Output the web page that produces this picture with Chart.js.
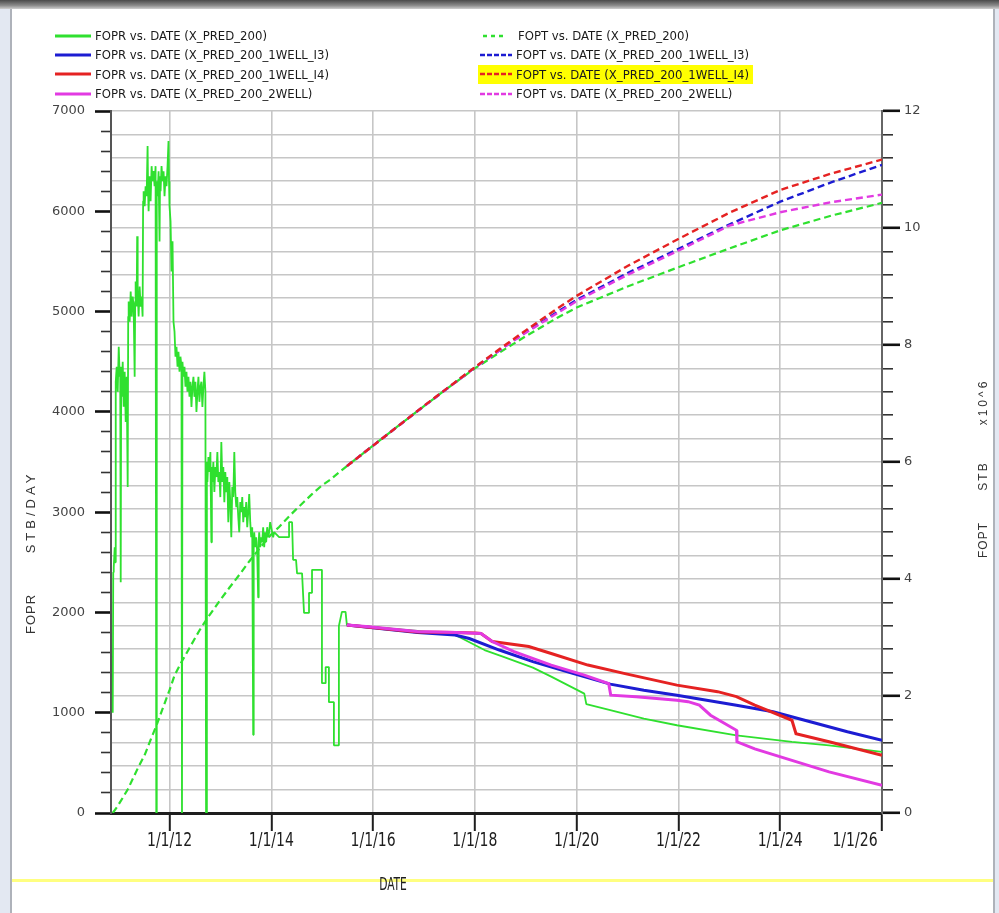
<!DOCTYPE html>
<html><head><meta charset="utf-8">
<script src="https://cdn.jsdelivr.net/npm/chart.js@4.4.1/dist/chart.umd.min.js"></script>
<style>
html,body{margin:0;padding:0;width:999px;height:913px;overflow:hidden;background:#fff;}
#topbar{position:absolute;left:0;top:0;width:999px;height:9px;background:linear-gradient(#4a4a4a,#8a8a8a 60%,#cfcfcf);}
#lstrip{position:absolute;left:0;top:9px;width:10px;height:904px;background:#e3e8f2;border-right:2px solid #aeb2ba;}
#rstrip{position:absolute;left:993px;top:9px;width:4px;height:904px;background:#e3e8f2;border-left:2px solid #aeb2ba;}
#bline{position:absolute;left:12px;top:879px;width:981px;height:3px;background:#ffff80;}
#wrap{position:absolute;left:0;top:0;width:999px;height:913px;}
#legend{position:absolute;left:0;top:0;width:999px;height:105px;}
.li{position:absolute;display:flex;align-items:center;height:19px;font-family:"Liberation Sans Narrow","Arial Narrow","DejaVu Sans Condensed",sans-serif;font-stretch:condensed;font-size:13px;color:#1a1a1a;white-space:nowrap;}
.li svg{display:block;}
</style></head>
<body>
<div id="topbar"></div><div id="lstrip"></div><div id="rstrip"></div><div id="bline"></div>
<div id="wrap"><canvas id="c" width="999" height="913"></canvas></div>
<div id="legend"></div>
<script>
// ---------- data ----------
const X_MIN = 2010.85, X_MAX = 2026.0;
const X_TICK_YEARS = [2012, 2014, 2016, 2018, 2020, 2022, 2024, 2026];
const X_TICK_LABELS = ['1/1/12','1/1/14','1/1/16','1/1/18','1/1/20','1/1/22','1/1/24','1/1/26'];
const FOPR_TICK_LABELS = ['0','1000','2000','3000','4000','5000','6000','7000'];
const FOPT_TICK_LABELS = ['0','2','4','6','8','10','12'];

// FOPR X_PRED_200 : history (noisy) then prediction  [decimal year, STB/DAY]
const FOPR_200_HIST = [[2010.884,1000],[2010.894,2400],[2010.904,2450],[2010.923,2650],[2010.933,2500],[2010.943,4300],[2010.962,4450],[2010.982,4200],[2011.002,4650],[2011.021,4350],[2011.031,4450],[2011.041,2300],[2011.050,4400],[2011.060,4150],[2011.080,4500],[2011.099,4050],[2011.119,4400],[2011.139,3900],[2011.158,4350],[2011.178,3250],[2011.188,4950],[2011.197,5100],[2011.217,4900],[2011.237,5200],[2011.256,4950],[2011.276,5150],[2011.295,5050],[2011.315,4350],[2011.325,5100],[2011.334,5300],[2011.354,5050],[2011.364,5750],[2011.374,5200],[2011.393,4950],[2011.413,5250],[2011.432,5050],[2011.452,5150],[2011.471,4950],[2011.481,6100],[2011.491,6200],[2011.511,6050],[2011.530,6250],[2011.550,6150],[2011.569,6650],[2011.579,6200],[2011.589,6000],[2011.608,6350],[2011.628,6100],[2011.648,6450],[2011.667,6300],[2011.687,6400],[2011.706,6250],[2011.726,6450],[2011.740,0],[2011.749,6300],[2011.765,6150],[2011.785,6400],[2011.804,5700],[2011.814,6350],[2011.824,6200],[2011.843,6450],[2011.863,6300],[2011.883,6400],[2011.902,6150],[2011.922,6350],[2011.941,6250],[2011.961,6450],[2011.980,6700],[2011.990,6300],[2012.000,6050],[2012.020,5900],[2012.039,5400],[2012.059,5700],[2012.078,4900],[2012.098,4800],[2012.117,4550],[2012.137,4650],[2012.157,4450],[2012.176,4600],[2012.196,4400],[2012.215,4550],[2012.235,4450],[2012.245,0],[2012.254,4500],[2012.274,4350],[2012.294,4450],[2012.313,4250],[2012.333,4400],[2012.352,4200],[2012.372,4350],[2012.392,4150],[2012.411,4300],[2012.431,4050],[2012.450,4250],[2012.470,4350],[2012.489,4150],[2012.509,4300],[2012.529,4000],[2012.548,4200],[2012.568,4350],[2012.587,4100],[2012.607,4250],[2012.626,4300],[2012.646,4050],[2012.666,4250],[2012.685,4400],[2012.705,4200],[2012.718,0],[2012.734,3500],[2012.744,3300],[2012.764,3550],[2012.783,3400],[2012.803,3600],[2012.822,2700],[2012.832,3450],[2012.842,3300],[2012.861,3500],[2012.881,3200],[2012.901,3450],[2012.920,3350],[2012.940,3600],[2012.959,3300],[2012.979,3400],[2012.998,3150],[2013.018,3700],[2013.038,3300],[2013.057,3450],[2013.077,3100],[2013.096,3400],[2013.116,3200],[2013.135,3350],[2013.155,2900],[2013.175,3300],[2013.194,3100],[2013.214,2750],[2013.233,3250],[2013.253,3150],[2013.273,3600],[2013.292,3200],[2013.312,3050],[2013.331,3150],[2013.351,2950],[2013.370,2800],[2013.390,3100],[2013.410,3000],[2013.429,3150],[2013.449,2900],[2013.468,3050],[2013.488,2950],[2013.507,3100],[2013.527,2850],[2013.547,3000],[2013.566,3180],[2013.586,2900],[2013.605,2750],[2013.625,2850],[2013.644,780],[2013.654,2700],[2013.664,2800],[2013.684,2650],[2013.703,2750],[2013.723,2600],[2013.742,2150],[2013.752,2700],[2013.762,2800],[2013.782,2650],[2013.801,2750],[2013.821,2700],[2013.840,2850],[2013.860,2650],[2013.879,2800],[2013.899,2700],[2013.919,2850],[2013.938,2750],[2013.958,2800],[2013.977,2900],[2013.997,2850],[2014.016,2800],[2014.036,2750],[2014.056,2800],[2014.153,2750],[2014.349,2750],[2014.349,2900],[2014.408,2900],[2014.428,2525],[2014.486,2525],[2014.506,2390],[2014.604,2390],[2014.643,1995],[2014.741,1995],[2014.741,2195],[2014.800,2195],[2014.800,2425],[2014.995,2425],[2014.995,1295],[2015.068,1295],[2015.068,1455],[2015.132,1455],[2015.132,1105],[2015.230,1105],[2015.230,675],[2015.328,675],[2015.328,1865],[2015.387,2005],[2015.459,2005]];
const FOPR_200_PRED = [[2015.485,1875],[2016.87,1815],[2017.61,1775],[2017.75,1740],[2018.19,1625],[2018.55,1560],[2019.14,1450],[2019.50,1360],[2020.15,1190],[2020.19,1085],[2020.66,1025],[2021.32,940],[2021.97,875],[2023.14,775],[2024.23,710],[2024.96,675],[2026.0,610]];
const FOPR_I3 = [[2015.485,1875],[2016.87,1800],[2017.61,1775],[2017.89,1740],[2018.48,1625],[2019.14,1510],[2019.94,1390],[2020.66,1285],[2021.32,1225],[2021.97,1175],[2023.14,1075],[2023.86,1010],[2024.59,910],[2025.32,810],[2026.0,725]];
const FOPR_I4 = [[2015.485,1875],[2016.87,1805],[2017.63,1800],[2018.0,1795],[2018.12,1790],[2018.34,1710],[2019.06,1660],[2019.50,1590],[2020.22,1475],[2020.95,1390],[2021.97,1275],[2022.77,1210],[2023.14,1160],[2023.50,1075],[2024.23,925],[2024.31,790],[2024.96,710],[2026.0,575]];
const FOPR_2WELL = [[2015.485,1875],[2015.86,1860],[2016.87,1810],[2017.64,1800],[2018.12,1790],[2018.34,1710],[2018.77,1610],[2019.50,1475],[2020.15,1375],[2020.63,1290],[2020.67,1175],[2021.17,1160],[2021.97,1125],[2022.19,1110],[2022.41,1075],[2022.63,975],[2022.85,910],[2023.14,825],[2023.15,710],[2023.50,640],[2024.23,525],[2024.96,410],[2026.0,275]];

// FOPT (x10^6 STB)
const FOPT_200 = [[2010.884,0],[2010.982,0.12],[2011.080,0.26],[2011.178,0.40],[2011.276,0.58],[2011.374,0.76],[2011.511,0.99],[2011.628,1.25],[2011.745,1.50],[2011.863,1.78],[2012.000,2.10],[2012.098,2.35],[2012.235,2.58],[2012.392,2.82],[2012.587,3.12],[2012.783,3.38],[2012.979,3.62],[2013.175,3.85],[2013.370,4.07],[2013.566,4.30],[2013.703,4.45],[2013.860,4.62],[2013.997,4.76],[2014.153,4.89],[2014.349,5.07],[2014.486,5.19],[2014.643,5.32],[2014.800,5.45],[2014.995,5.60],[2015.132,5.68],[2015.328,5.82],[2015.485,5.93],[2016.0,6.28],[2016.5,6.62],[2017.0,6.955],[2017.5,7.285],[2018.0,7.60],[2018.5,7.88],[2019.0,8.15],[2019.63,8.47],[2020.0,8.64],[2021.0,9.0],[2021.97,9.32],[2023.0,9.65],[2024.0,9.96],[2025.0,10.21],[2026.0,10.43]];
const FOPT_I3 = [[2015.485,5.93],[2016.0,6.28],[2016.5,6.62],[2017.0,6.955],[2017.5,7.285],[2018.0,7.615],[2018.5,7.92],[2019.0,8.22],[2019.63,8.57],[2020.0,8.77],[2021.0,9.23],[2021.97,9.63],[2022.9,10.02],[2024.0,10.45],[2025.0,10.78],[2026.0,11.08]];
const FOPT_I4 = [[2015.485,5.93],[2016.0,6.28],[2016.5,6.62],[2017.0,6.96],[2017.5,7.29],[2018.0,7.62],[2018.5,7.94],[2019.0,8.25],[2019.63,8.63],[2020.0,8.84],[2021.0,9.35],[2021.97,9.80],[2023.0,10.26],[2024.0,10.65],[2025.0,10.93],[2026.0,11.17]];
const FOPT_2WELL = [[2015.485,5.93],[2016.0,6.28],[2016.5,6.62],[2017.0,6.955],[2017.5,7.285],[2018.0,7.615],[2018.5,7.92],[2019.0,8.21],[2019.63,8.55],[2020.0,8.75],[2021.0,9.20],[2021.97,9.60],[2023.0,10.04],[2024.0,10.27],[2025.0,10.44],[2026.0,10.57]];

// ---------- styles ----------
const GREEN = '#2fe02f', BLUE = '#1c1cd2', RED = '#e52222', MAGENTA = '#e23ae2';
const GRID = '#c6c6c6';
const xy = arr => arr.map(p => ({x: p[0], y: p[1]}));

const FOPR_STEP = 200, FOPT_STEP = 0.4;
const foprTicks = []; for (let v = 0; v <= 7000; v += FOPR_STEP) foprTicks.push(v);
const foptTicks = []; for (let k = 0; k <= 30; k++) foptTicks.push(+(k * FOPT_STEP).toFixed(1));
const isFoprMajor = v => v % 1000 === 0;
const isFoptMajor = v => Math.round(v * 10) % 20 === 0;

const NARROW = '"Liberation Sans Narrow","Arial Narrow","DejaVu Sans Condensed",sans-serif';

function vText(ctx, str, x, y, font, spacing) {
  ctx.save(); ctx.translate(x, y); ctx.rotate(-Math.PI / 2);
  ctx.font = font; if ('letterSpacing' in ctx) ctx.letterSpacing = spacing || '0px';
  ctx.textAlign = 'center'; ctx.textBaseline = 'middle'; ctx.fillText(str, 0, 0); ctx.restore();
}

const decor = {
  id: 'decor',
  afterDraw(chart) {
    const {ctx, scales} = chart;
    const xs = scales.x;
    ctx.save();
    ctx.fillStyle = '#1e1e1e';
    X_TICK_YEARS.forEach((yr, i) => {
      let px = xs.getPixelForValue(yr);
      if (i === X_TICK_YEARS.length - 1) px -= 27;
      ctx.save(); ctx.translate(px, 841); ctx.scale(0.82, 1);
      ctx.font = '19px ' + NARROW; ctx.textAlign = 'center'; ctx.textBaseline = 'middle';
      ctx.fillText(X_TICK_LABELS[i], 0, 0); ctx.restore();
    });
    ctx.save(); ctx.translate(393, 886); ctx.scale(0.7, 1);
    ctx.font = '17px ' + NARROW; ctx.textAlign = 'center'; ctx.textBaseline = 'middle';
    ctx.fillText('DATE', 0, 0); ctx.restore();
    ctx.fillStyle = '#333';
    vText(ctx, 'FOPR', 31, 614, '13px "Liberation Sans", sans-serif', '1px');
    vText(ctx, 'STB/DAY', 31, 512, '13px "Liberation Sans", sans-serif', '4px');
    vText(ctx, 'FOPT', 984, 540, '12px "Liberation Sans", sans-serif', '1px');
    vText(ctx, 'STB', 984, 476, '12px "Liberation Sans", sans-serif', '2px');
    vText(ctx, 'x10^6', 984, 402, '12px "Liberation Sans", sans-serif', '3px');
    ctx.restore();
  }
};

const tickFont = {family: '"DejaVu Sans", sans-serif', size: 13};

const chart = new Chart(document.getElementById('c'), {
  type: 'line',
  data: {
    datasets: [
      {label: 'FOPR vs. DATE (X_PRED_200)', data: xy(FOPR_200_HIST.concat(FOPR_200_PRED)), yAxisID: 'y', borderColor: GREEN, borderWidth: 1.8, order: 6, borderJoinStyle: 'bevel', legendCol: 0, legendRow: 0},
      {label: 'FOPR vs. DATE (X_PRED_200_1WELL_I3)', data: xy(FOPR_I3), yAxisID: 'y', borderColor: BLUE, borderWidth: 3, order: 4, legendCol: 0, legendRow: 1},
      {label: 'FOPR vs. DATE (X_PRED_200_1WELL_I4)', data: xy(FOPR_I4), yAxisID: 'y', borderColor: RED, borderWidth: 3, order: 3, legendCol: 0, legendRow: 2},
      {label: 'FOPR vs. DATE (X_PRED_200_2WELL)', data: xy(FOPR_2WELL), yAxisID: 'y', borderColor: MAGENTA, borderWidth: 3, order: 0, legendCol: 0, legendRow: 3},
      {label: 'FOPT vs. DATE (X_PRED_200)', data: xy(FOPT_200), yAxisID: 'y2', borderColor: GREEN, borderWidth: 2.2, borderDash: [7, 4], order: 7, legendCol: 1, legendRow: 0, legendDash: '4,4'},
      {label: 'FOPT vs. DATE (X_PRED_200_1WELL_I3)', data: xy(FOPT_I3), yAxisID: 'y2', borderColor: BLUE, borderWidth: 2.4, borderDash: [7, 4], order: 5, legendCol: 1, legendRow: 1},
      {label: 'FOPT vs. DATE (X_PRED_200_1WELL_I4)', data: xy(FOPT_I4), yAxisID: 'y2', borderColor: RED, borderWidth: 2.4, borderDash: [7, 4], order: 1, legendCol: 1, legendRow: 2, highlight: true},
      {label: 'FOPT vs. DATE (X_PRED_200_2WELL)', data: xy(FOPT_2WELL), yAxisID: 'y2', borderColor: MAGENTA, borderWidth: 2.4, borderDash: [7, 4], order: 2, legendCol: 1, legendRow: 3}
    ]
  },
  options: {
    responsive: false, animation: false, events: [],
    layout: {padding: {top: 111, left: 0, right: 0, bottom: 0}},
    elements: {point: {radius: 0, hoverRadius: 0}, line: {tension: 0, fill: false}},
    plugins: {legend: {display: false}, tooltip: {enabled: false}, title: {display: false}},
    scales: {
      x: {
        type: 'linear', min: X_MIN, max: X_MAX,
        afterBuildTicks: s => { s.ticks = X_TICK_YEARS.map(v => ({value: v})); },
        afterFit: s => { s.height = 100; },
        ticks: {display: false},
        grid: {color: GRID, lineWidth: 1.6, tickLength: 18, tickColor: '#1e1e1e', tickWidth: 2},
        border: {color: '#1e1e1e', width: 3}
      },
      y: {
        position: 'left', min: 0, max: 7000,
        afterBuildTicks: s => { s.ticks = foprTicks.map(v => ({value: v})); },
        afterFit: s => { s.width = 111; },
        ticks: {callback: v => isFoprMajor(v) ? FOPR_TICK_LABELS[v / 1000] : '', font: tickFont, color: '#444', padding: 10, autoSkip: false},
        grid: {
          drawOnChartArea: false, tickLength: 16,
          tickColor: c => (c.tick && isFoprMajor(c.tick.value)) ? '#111' : '#333',
          tickWidth: c => (c.tick && isFoprMajor(c.tick.value)) ? 2.6 : 1.6,
          tickBorderDash: c => (c.tick && isFoprMajor(c.tick.value)) ? [] : [10, 6],
          tickBorderDashOffset: c => (c.tick && isFoprMajor(c.tick.value)) ? 0 : 10
        },
        border: {color: '#555', width: 2}
      },
      y2: {
        position: 'right', min: 0, max: 12,
        afterBuildTicks: s => { s.ticks = foptTicks.map(v => ({value: v})); },
        afterFit: s => { s.width = 117; },
        ticks: {callback: v => isFoptMajor(v) ? FOPT_TICK_LABELS[Math.round(v / 2)] : '', font: tickFont, color: '#444', padding: 4, autoSkip: false},
        grid: {
          color: GRID, lineWidth: 1.6, tickLength: 18,
          tickColor: c => (c.tick && isFoptMajor(c.tick.value)) ? '#111' : '#333',
          tickWidth: c => (c.tick && isFoptMajor(c.tick.value)) ? 2.6 : 1.6,
          tickBorderDash: c => (c.tick && isFoptMajor(c.tick.value)) ? [] : [10, 30],
          tickBorderDashOffset: 0
        },
        border: {color: '#666', width: 2}
      }
    }
  },
  plugins: [decor]
});

// HTML legend built from the chart's datasets
(function buildLegend() {
  const box = document.getElementById('legend');
  chart.data.datasets.forEach(ds => {
    const item = document.createElement('div');
    item.className = 'li';
    const left = ds.legendCol ? 478 : 55;
    item.style.left = left + 'px';
    item.style.top = (26 + ds.legendRow * 19.4) + 'px';
    if (ds.highlight) { item.style.background = '#ffff00'; item.style.paddingRight = '4px'; }
    const w = ds.legendCol ? 34 : 36;
    const dash = ds.legendCol ? (ds.legendDash || '5,2') : '';
    const x1 = (ds.legendCol && ds.legendDash) ? 5 : (ds.legendCol ? 2 : 0);
    const x2 = (ds.legendCol && ds.legendDash) ? 26 : w;
    const sw = ds.legendCol ? 2.5 : 3;
    item.innerHTML = '<svg width="' + w + '" height="8"><line x1="' + x1 + '" y1="4" x2="' + x2 + '" y2="4" stroke="' + ds.borderColor + '" stroke-width="' + sw + '"' + (dash ? ' stroke-dasharray="' + dash + '"' : '') + '/></svg>';
    const sp = document.createElement('span');
    sp.textContent = ds.label;
    sp.style.marginLeft = (ds.legendCol && ds.legendDash) ? '6px' : '4px';
    item.appendChild(sp);
    box.appendChild(item);
  });
})();
</script>
</body></html>
